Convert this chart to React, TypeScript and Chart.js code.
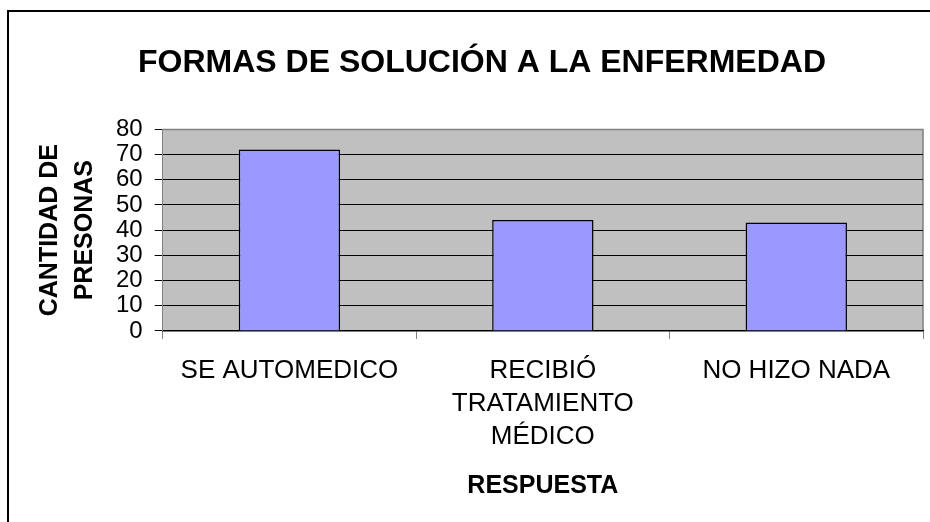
import React, { useEffect, useRef } from "react";
import { Chart, registerables } from "chart.js";

Chart.register(...registerables);

const CHART_TITLE = "FORMAS DE SOLUCIÓN A LA ENFERMEDAD";
const Y_TITLE = ["CANTIDAD DE", "PRESONAS"];
const X_TITLE = "RESPUESTA";
const CATEGORIES: (string | string[])[] = [
  "SE AUTOMEDICO",
  ["RECIBIÓ", "TRATAMIENTO", "MÉDICO"],
  "NO HIZO NADA",
];
const VALUES = [72, 44, 43];
const Y_MIN = 0;
const Y_MAX = 80;
const Y_STEP = 10;

const FONT = "'Liberation Sans', Arial, sans-serif";

const plotBackground = {
  id: "plotBackground",
  beforeDraw(chart: any) {
    const { ctx, chartArea } = chart;
    if (!chartArea) return;
    ctx.save();
    ctx.fillStyle = "#C0C0C0";
    ctx.fillRect(chartArea.left, chartArea.top, chartArea.right - chartArea.left, chartArea.bottom - chartArea.top);
    ctx.strokeStyle = "#808080";
    ctx.lineWidth = 1.5;
    ctx.beginPath();
    ctx.moveTo(chartArea.left, chartArea.top);
    ctx.lineTo(chartArea.right, chartArea.top);
    ctx.lineTo(chartArea.right, chartArea.bottom);
    ctx.stroke();
    ctx.restore();
  },
};

const shiftTitle = {
  id: "shiftTitle",
  afterLayout(chart: any) {
    const tb = chart.titleBlock;
    if (tb) {
      tb.left = 41;
    }
  },
};

export default function App() {
  const canvasRef = useRef<HTMLCanvasElement | null>(null);

  useEffect(() => {
    if (!canvasRef.current) return;
    const chart = new Chart(canvasRef.current, {
      type: "bar",
      data: {
        labels: CATEGORIES,
        datasets: [
          {
            data: VALUES,
            backgroundColor: "#9999FF",
            borderColor: "#000000",
            borderWidth: 1.5,
            barPercentage: 0.4,
            categoryPercentage: 1,
          },
        ],
      },
      options: {
        responsive: false,
        animation: false,
        layout: { padding: { left: 0, right: 7, top: 10, bottom: 0 } },
        plugins: {
          legend: { display: false },
          tooltip: { enabled: false },
          title: {
            display: true,
            text: CHART_TITLE,
            color: "#000",
            font: { family: FONT, size: 32, weight: "bold", lineHeight: 1.2 },
            padding: { top: 34, bottom: 47 },
          },
        },
        scales: {
          x: {
            grid: {
              display: true,
              drawOnChartArea: false,
              drawTicks: true,
              tickLength: 8,
              color: "#808080",
              offset: true,
            },
            border: { display: true, color: "#000000", width: 1.5 },
            ticks: {
              color: "#000",
              font: { family: FONT, size: 26, lineHeight: 1.27 },
              padding: 15,
              maxRotation: 0,
              minRotation: 0,
              autoSkip: false,
            },
            title: {
              display: true,
              text: X_TITLE,
              color: "#000",
              font: { family: FONT, size: 25, weight: "bold", lineHeight: 1.2 },
              padding: { top: 3, bottom: 21 },
            },
          },
          y: {
            min: Y_MIN,
            max: Y_MAX,
            grid: {
              color: (c: any) => (c.tick && c.tick.value === Y_MAX ? "#808080" : "#000000"),
              tickColor: "#000000",
              tickLength: 8,
              lineWidth: 1,
            },
            border: { display: true, color: "#808080", width: 1 },
            ticks: {
              stepSize: Y_STEP,
              autoSkip: false,
              color: "#000",
              font: { family: FONT, size: 24, lineHeight: 1 },
              padding: 12,
            },
            title: {
              display: true,
              text: Y_TITLE,
              color: "#000",
              font: { family: FONT, size: 25, weight: "bold", lineHeight: 1.4 },
              padding: { top: 33, bottom: 1 },
            },
          },
        },
      },
      plugins: [plotBackground, shiftTitle],
    });
    return () => chart.destroy();
  }, []);

  return (
    <div
      style={{
        position: "fixed",
        left: 0,
        top: 0,
        width: 930,
        height: 522,
        overflow: "hidden",
        background: "#fff",
      }}
    >
      <canvas ref={canvasRef} width={930} height={522} style={{ position: "absolute", left: 0, top: 0 }} />
      <div
        style={{
          position: "absolute",
          left: 7,
          top: 10,
          width: 2000,
          height: 2000,
          borderLeft: "2px solid #000",
          borderTop: "2px solid #000",
          pointerEvents: "none",
        }}
      />
    </div>
  );
}
